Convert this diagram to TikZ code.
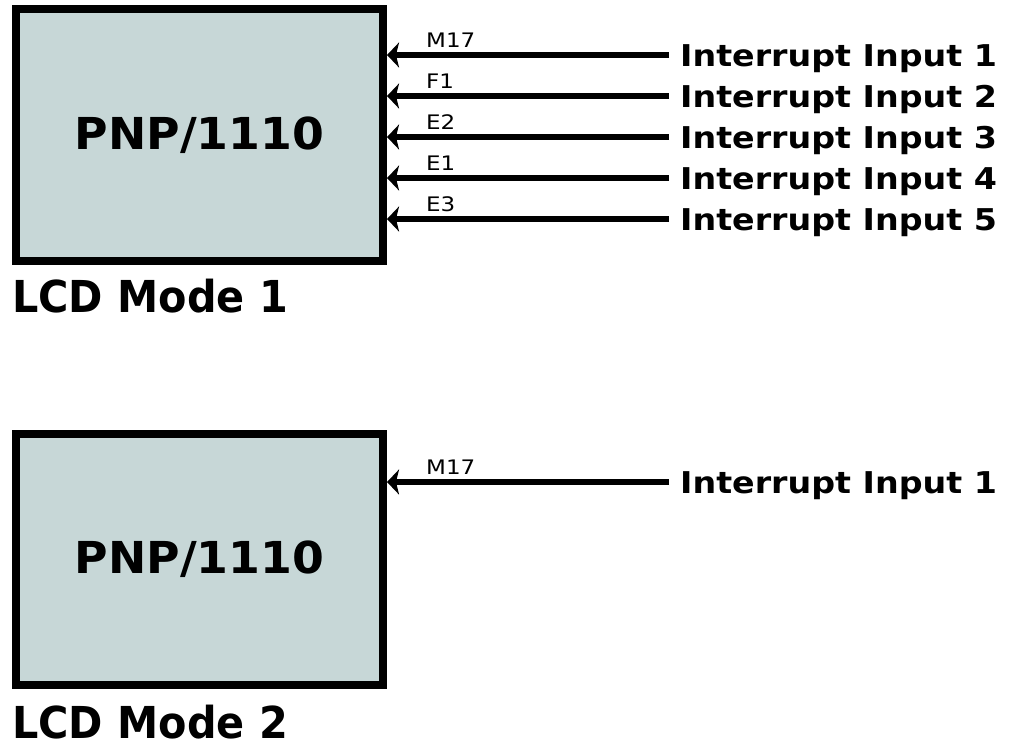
\documentclass[tikz,border=0pt]{standalone}
\usepackage{fontspec}
\setmainfont{DejaVu Sans}
\usetikzlibrary{arrows.meta}
\definecolor{lcdfill}{RGB}{199,215,215}
\newcommand{\wider}[2]{\scalebox{#1}[1]{#2}}
\begin{document}
\begin{tikzpicture}[x=1pt,y=-1pt,
  lcdbox/.style={draw=black,line width=8pt,fill=lcdfill,minimum width=367pt,minimum height=252pt,inner sep=0pt,
     font=\fontsize{44pt}{44pt}\selectfont\bfseries},
  modelabel/.style={anchor=base west,inner sep=0pt,text depth=0pt,font=\fontsize{44pt}{44pt}\selectfont\bfseries},
  inlabel/.style={anchor=west,inner xsep=11pt,inner ysep=0pt,text height=22pt,text depth=0pt,
     font=\fontsize{30pt}{30pt}\selectfont\bfseries},
  pinlabel/.style={anchor=base west,inner sep=0pt,font=\fontsize{20pt}{20pt}\selectfont},
  sig/.style={line width=6.5pt,-{Stealth[length=12pt,width=25pt,inset=3pt]}}
]
\useasboundingbox (0,0) rectangle (1012,745);
% mode 1
\node[lcdbox] (b1) at (199.5,135) {\wider{1.04}{PNP/1110}};
\node[modelabel] (m1) at (12,312) {\wider{0.94}{LCD Mode 1}};
\foreach \i/\y/\p in {1/55/M17,2/96/F1,3/137/E2,4/178/E1,5/219/E3}{
  \node[inlabel] (in\i) at (669,\y) {\wider{1.11}{Interrupt Input \i}};
  \draw[sig] (in\i.west) -- (in\i.west -| b1.east);
  \node[pinlabel] (p\i) at (426,\y-8) {\wider{1.15}{\p}};
}
% mode 2
\node[lcdbox,minimum height=251pt] (b2) at (199.5,559.5) {\wider{1.04}{PNP/1110}};
\node[modelabel] (m2) at (12,738) {\wider{0.94}{LCD Mode 2}};
\node[inlabel] (j1) at (669,482) {\wider{1.11}{Interrupt Input 1}};
\draw[sig] (j1.west) -- (j1.west -| b2.east);
\node[pinlabel] (q1) at (426,474) {\wider{1.15}{M17}};
\end{tikzpicture}
\end{document}
